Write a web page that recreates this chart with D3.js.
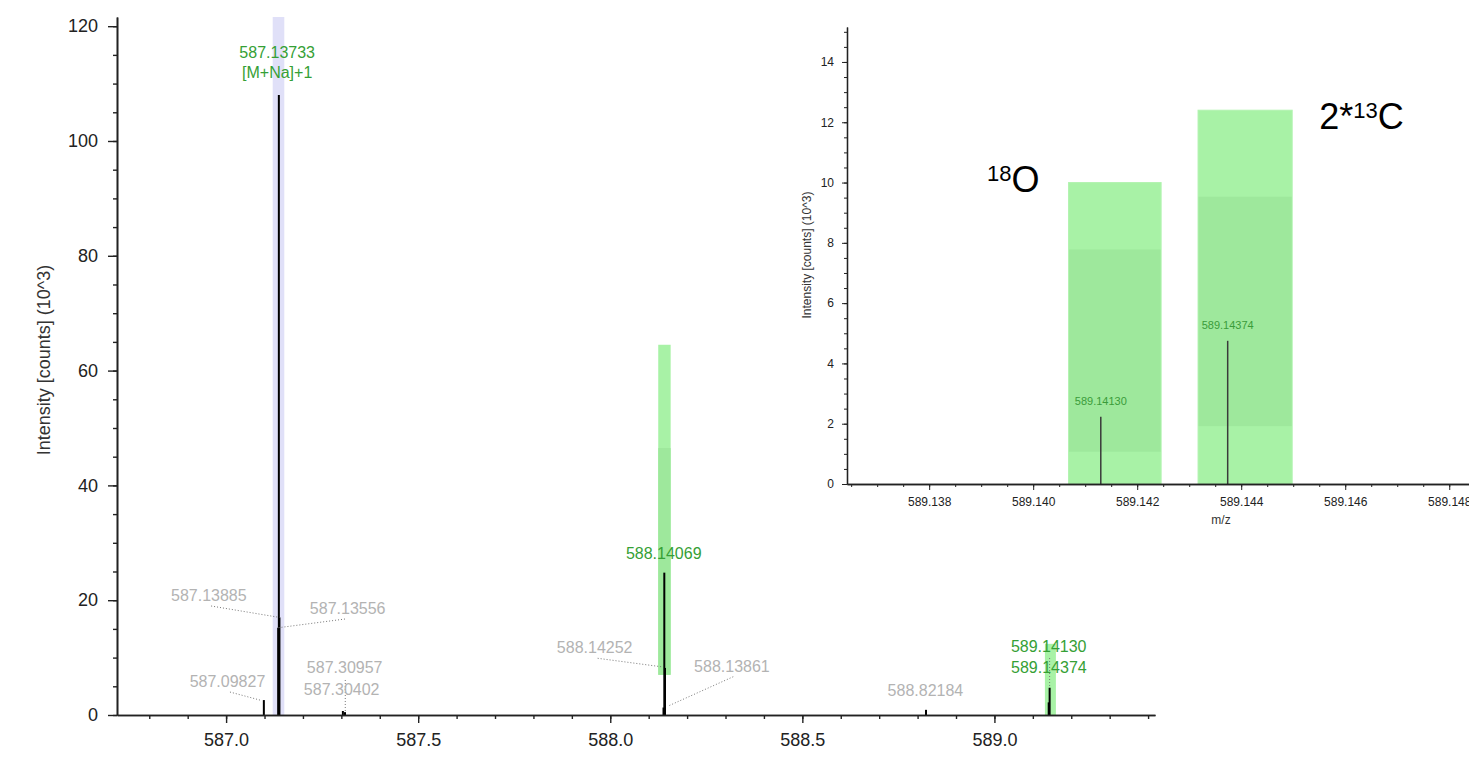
<!DOCTYPE html>
<html><head><meta charset="utf-8">
<script src="https://cdn.jsdelivr.net/npm/d3@7"></script>
<style>
html,body{margin:0;padding:0;background:#fff;}
svg{display:block;font-family:"Liberation Sans",Arial,sans-serif;}
</style></head><body>
<svg id="chart" width="1469" height="758"></svg>
<script>
// ---------- main spectrum data ----------
const peakMz        = [587.09827, 587.13556, 587.13733, 587.13885, 587.30402, 587.30957, 588.13861, 588.14069, 588.14252, 588.82184, 589.14130, 589.14374];
const peakIntensity = [2.6, 15.2, 108.0, 17.0, 0.7, 0.5, 1.3, 24.8, 8.2, 0.9, 2.2, 4.75];

const mainXDomain = [586.716, 589.418];
const mainYDomain = [0, 121.6];
const mainXTicks  = [587.0, 587.5, 588.0, 588.5, 589.0];
const mainYTicks  = [0, 20, 40, 60, 80, 100, 120];

// highlight bands (m/z range, intensity range)
const bandKind      = ["target", "isotope", "isotope"];
const bandMzLow     = [587.1213, 588.1249, 589.1314];
const bandMzHigh    = [587.1515, 588.1572, 589.1600];
const bandOuterLow  = [0, 7.0, 0];
const bandOuterHigh = [121.6, 64.5, 12.4];
const bandInnerLow  = [null, 7.0, null];
const bandInnerHigh = [null, 46.5, null];

// peak labels (anchor in data units)
const labelText     = ["587.13733", "[M+Na]+1", "587.13885", "587.13556", "587.09827", "587.30957", "587.30402", "588.14069", "588.14252", "588.13861", "588.82184", "589.14130", "589.14374"];
const labelMz       = [587.133, 587.133, 586.955, 587.3165, 587.0036, 587.3087, 587.3009, 588.1392, 587.9594, 588.3167, 588.8204, 589.1413, 589.1418];
const labelInt      = [114.4, 111.0, 19.86, 17.6, 4.88, 7.37, 3.48, 27.2, 10.75, 7.54, 3.31, 11.03, 7.26];
const labelAssigned = [true, true, false, false, false, false, false, true, false, false, false, true, true];

// dotted leader lines (data units)
const leaderFromMz  = [586.961, 587.3094, 587.0101, 587.3102, 587.9672, 588.3201, 589.1437];
const leaderFromInt = [18.99, 16.72, 4.0, 6.1, 9.88, 6.67, 9.93];
const leaderToMz    = [587.13885, 587.13556, 587.0882, 587.3102, 588.1338, 588.151, 589.1437];
const leaderToInt   = [17.0, 15.2, 2.6, 0.5, 8.4, 1.57, 5.05];

// ---------- inset (zoom on 589.14) ----------
const insetXDomain = [589.13642, 589.14838];
const insetYDomain = [0, 15.16];
const insetXTicks  = [589.138, 589.140, 589.142, 589.144, 589.146, 589.148];
const insetYTicks  = [0, 2, 4, 6, 8, 10, 12, 14];
const insetPeakMz        = [589.14130, 589.14374];
const insetPeakIntensity = [2.23, 4.75];
const insetBarMzLow   = [589.14068, 589.14317];
const insetBarMzHigh  = [589.14246, 589.14498];
const insetBarHigh    = [10.0, 12.4];
const insetInnerLow   = [1.07, 1.92];
const insetInnerHigh  = [7.78, 9.53];
const annotPre  = ["", "2*"];
const annotSup  = ["18", "13"];
const annotPost = ["O", "C"];
const annotMz   = [589.13911, 589.1455];
const annotInt  = [9.68, 11.77];

// ---------- drawing ----------
const svg = d3.select("#chart");
const AX = "#222";
const GREEN_TXT = "#35a035";
const GRAY_TXT = "#b3b3b3";
const LIGHT_G = "#a8f2a6", DARK_G = "#9ee89c";

// Main chart scales
const x = d3.scaleLinear().domain(mainXDomain).range([117, 1155]);
const y = d3.scaleLinear().domain(mainYDomain).range([715, 17]);

const gMain = svg.append("g");

// bands
bandKind.forEach((k, i) => {
  gMain.append("rect")
    .attr("x", x(bandMzLow[i])).attr("width", x(bandMzHigh[i]) - x(bandMzLow[i]))
    .attr("y", y(bandOuterHigh[i])).attr("height", y(bandOuterLow[i]) - y(bandOuterHigh[i]))
    .attr("fill", k === "target" ? "#e0e0f8" : LIGHT_G);
  if (bandInnerLow[i] !== null) {
    gMain.append("rect")
      .attr("x", x(bandMzLow[i])).attr("width", x(bandMzHigh[i]) - x(bandMzLow[i]))
      .attr("y", y(bandInnerHigh[i])).attr("height", y(bandInnerLow[i]) - y(bandInnerHigh[i]))
      .attr("fill", DARK_G);
  }
});

// peaks
gMain.selectAll("line.peak").data(peakMz).join("line").attr("class", "peak")
  .attr("x1", d => x(d)).attr("x2", d => x(d))
  .attr("y1", y(0)).attr("y2", (d, i) => y(peakIntensity[i]))
  .attr("stroke", "#000").attr("stroke-width", 2);

// leaders
gMain.selectAll("line.leader").data(leaderFromMz).join("line").attr("class", "leader")
  .attr("x1", d => x(d)).attr("y1", (d, i) => y(leaderFromInt[i]))
  .attr("x2", (d, i) => x(leaderToMz[i])).attr("y2", (d, i) => y(leaderToInt[i]))
  .attr("stroke", "#777").attr("stroke-width", 1).attr("stroke-dasharray", "1,2");

// labels
gMain.selectAll("text.lbl").data(labelText).join("text").attr("class", "lbl")
  .attr("x", (d, i) => x(labelMz[i])).attr("y", (d, i) => y(labelInt[i]))
  .attr("text-anchor", "middle").attr("font-size", 16)
  .attr("fill", (d, i) => labelAssigned[i] ? GREEN_TXT : GRAY_TXT)
  .text(d => d);

// axes
function styleAxis(g) {
  g.selectAll("path.domain").attr("stroke", AX).attr("stroke-width", 1.6);
  g.selectAll(".tick line").attr("stroke", AX).attr("stroke-width", 1.4);
  g.selectAll(".tick text").attr("fill", AX);
}
const minorY = d3.range(0, 121, 5);
gMain.append("g").attr("transform", "translate(117,0)")
  .call(d3.axisLeft(y).tickValues(minorY).tickSize(4).tickSizeOuter(0).tickFormat(""))
  .call(styleAxis);
gMain.append("g").attr("transform", "translate(117,0)")
  .call(d3.axisLeft(y).tickValues(mainYTicks).tickSize(9).tickSizeOuter(0).tickPadding(10).tickFormat(d3.format("d")))
  .call(g => g.selectAll(".tick text").attr("font-size", 18).attr("font-family", "Liberation Sans"))
  .call(styleAxis);

const minorX = d3.range(5868, 5895).map(v => v / 10);
gMain.append("g").attr("transform", "translate(0,715)")
  .call(d3.axisBottom(x).tickValues(minorX).tickSize(4).tickSizeOuter(0).tickFormat(""))
  .call(styleAxis);
gMain.append("g").attr("transform", "translate(0,715)")
  .call(d3.axisBottom(x).tickValues(mainXTicks).tickSize(8).tickSizeOuter(0).tickPadding(10).tickFormat(d3.format(".1f")))
  .call(g => g.selectAll(".tick text").attr("font-size", 18).attr("font-family", "Liberation Sans"))
  .call(styleAxis);

gMain.append("text")
  .attr("transform", "translate(50,360) rotate(-90)")
  .attr("text-anchor", "middle").attr("font-size", 18).attr("fill", "#333")
  .text("Intensity [counts] (10^3)");

// Inset
const xi = d3.scaleLinear().domain(insetXDomain).range([847, 1469]);
const yi = d3.scaleLinear().domain(insetYDomain).range([484, 27]);
const gIn = svg.append("g");

insetBarMzLow.forEach((m, i) => {
  gIn.append("rect")
    .attr("x", xi(m)).attr("width", xi(insetBarMzHigh[i]) - xi(m))
    .attr("y", yi(insetBarHigh[i])).attr("height", yi(0) - yi(insetBarHigh[i]))
    .attr("fill", LIGHT_G).attr("stroke", "#b2f3b0").attr("stroke-width", 1);
  gIn.append("rect")
    .attr("x", xi(m) + 0.5).attr("width", xi(insetBarMzHigh[i]) - xi(m) - 1)
    .attr("y", yi(insetInnerHigh[i])).attr("height", yi(insetInnerLow[i]) - yi(insetInnerHigh[i]))
    .attr("fill", DARK_G);
});

gIn.selectAll("line.ipk").data(insetPeakMz).join("line").attr("class", "ipk")
  .attr("x1", d => xi(d)).attr("x2", d => xi(d))
  .attr("y1", yi(0)).attr("y2", (d, i) => yi(insetPeakIntensity[i]))
  .attr("stroke", "#3a3a3a").attr("stroke-width", 1.5);

gIn.selectAll("text.ilbl").data(insetPeakMz).join("text").attr("class", "ilbl")
  .attr("x", d => xi(d)).attr("y", (d, i) => yi(insetPeakIntensity[i]) - 12)
  .attr("text-anchor", "middle").attr("font-size", 11).attr("fill", "#3a9c3a")
  .text(d => d3.format(".5f")(d));

// isotope annotations
annotMz.forEach((m, i) => {
  const t = gIn.append("text").attr("x", xi(m)).attr("y", yi(annotInt[i]))
    .attr("font-size", 36).attr("fill", "#000");
  if (annotPre[i]) t.append("tspan").text(annotPre[i]);
  t.append("tspan").attr("font-size", 22).attr("dy", -11).text(annotSup[i]);
  t.append("tspan").attr("dy", 11).text(annotPost[i]);
});

const minorYi = d3.range(0, 31).map(v => v / 2);
gIn.append("g").attr("transform", "translate(847,0)")
  .call(d3.axisLeft(yi).tickValues(minorYi).tickSize(3).tickSizeOuter(0).tickFormat(""))
  .call(styleAxis)
  .call(g => g.selectAll("path.domain").attr("stroke-width", 1.3))
  .call(g => g.selectAll(".tick line").attr("stroke-width", 1));
gIn.append("g").attr("transform", "translate(847,0)")
  .call(d3.axisLeft(yi).tickValues(insetYTicks).tickSize(5).tickSizeOuter(0).tickPadding(8).tickFormat(d3.format("d")))
  .call(g => g.selectAll(".tick text").attr("font-size", 12).attr("font-family", "Liberation Sans"))
  .call(styleAxis)
  .call(g => g.selectAll("path.domain").attr("stroke-width", 1.3))
  .call(g => g.selectAll(".tick line").attr("stroke-width", 1));

const minorXi = d3.range(0, 24).map(v => 589.1365 + v * 0.0005);
gIn.append("g").attr("transform", "translate(0,484)")
  .call(d3.axisBottom(xi).tickValues(minorXi).tickSize(3).tickSizeOuter(0).tickFormat(""))
  .call(styleAxis)
  .call(g => g.selectAll("path.domain").attr("stroke-width", 1.3))
  .call(g => g.selectAll(".tick line").attr("stroke-width", 1));
gIn.append("g").attr("transform", "translate(0,484)")
  .call(d3.axisBottom(xi).tickValues(insetXTicks).tickSize(6).tickSizeOuter(0).tickPadding(7).tickFormat(d3.format(".3f")))
  .call(g => g.selectAll(".tick text").attr("font-size", 12).attr("font-family", "Liberation Sans"))
  .call(styleAxis)
  .call(g => g.selectAll("path.domain").attr("stroke-width", 1.3))
  .call(g => g.selectAll(".tick line").attr("stroke-width", 1));

gIn.append("text").attr("x", 1221).attr("y", 524).attr("text-anchor", "middle")
  .attr("font-size", 12).attr("fill", "#333").text("m/z");
gIn.append("text")
  .attr("transform", "translate(811,255) rotate(-90)")
  .attr("text-anchor", "middle").attr("font-size", 12).attr("fill", "#333")
  .text("Intensity [counts] (10^3)");
</script>
</body></html>
